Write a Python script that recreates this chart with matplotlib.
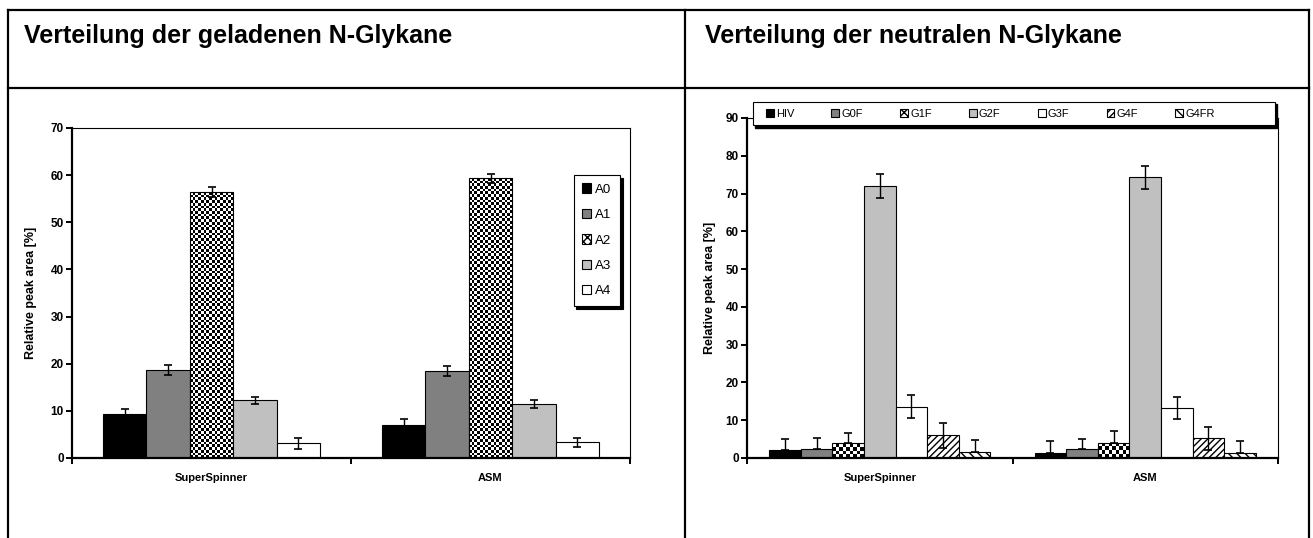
import numpy as np
import matplotlib
matplotlib.use('Agg')
import matplotlib.pyplot as plt
from matplotlib.patches import Patch, Rectangle
from matplotlib.lines import Line2D

plt.rcParams['font.family'] = ['Liberation Sans', 'DejaVu Sans']
plt.rcParams['hatch.linewidth'] = 1.0

W, H = 1313, 538

groups = ['SuperSpinner', 'ASM']

# charged glycans
charged_names = ['A0', 'A1', 'A2', 'A3', 'A4']
charged_ss = [9.3, 18.7, 56.4, 12.2, 3.1]
charged_asm = [7.0, 18.5, 59.3, 11.5, 3.3]
charged_err_ss = [1.2, 1.0, 1.0, 0.8, 1.1]
charged_err_asm = [1.2, 1.1, 1.0, 0.8, 1.0]

# neutral glycans
neutral_names = ['HIV', 'G0F', 'G1F', 'G2F', 'G3F', 'G4F', 'G4FR']
neutral_ss = [2.1, 2.4, 3.9, 72.0, 13.6, 6.0, 1.5]
neutral_asm = [1.2, 2.4, 4.1, 74.3, 13.2, 5.2, 1.2]
neutral_up_ss = [2.9, 2.8, 2.8, 3.1, 3.0, 3.3, 3.2]
neutral_up_asm = [3.2, 2.7, 3.1, 3.1, 3.0, 3.1, 3.2]
neutral_low_ss = [0, 0, 0, 3.1, 3.0, 3.3, 0]
neutral_low_asm = [0, 0, 0, 3.1, 3.0, 3.1, 0]

charged_style = [dict(fc='black'), dict(fc='#808080'), dict(fc='none', checker=2.7),
                 dict(fc='#c0c0c0'), dict(fc='white')]
neutral_style = [dict(fc='black'), dict(fc='#808080'), dict(fc='none', checker=3.5),
                 dict(fc='#c0c0c0'), dict(fc='white'), dict(fc='white', hatch='/////'),
                 dict(fc='white', hatch='\\\\\\\\')]


def px(x, y):
    return x / W, 1 - y / H


def checker(ax, patch, cell):
    x0, y0 = patch.get_x(), patch.get_y()
    x1, y1 = x0 + patch.get_width(), y0 + patch.get_height()
    (a, b), (c, d) = ax.transData.transform([(x0, y0), (x1, y1)])
    nx = max(1, int(round((c - a) / cell)))
    ny = max(1, int(round((d - b) / cell)))
    board = (np.add.outer(np.arange(ny), np.arange(nx)) % 2).astype(float)
    im = ax.imshow(board, cmap='gray', vmin=0, vmax=1, extent=(x0, x1, y0, y1),
                   aspect='auto', interpolation='nearest', origin='lower', zorder=1.9)
    im.set_clip_path(patch)


def draw_chart(ax, names, vals, err_low, err_up, styles, width, ymax):
    ax.set_xlim(-0.5, 1.5)
    ax.set_ylim(0, ymax)
    n = len(names)
    handles = []
    for i in range(n):
        st = dict(styles[i])
        cell = st.pop('checker', None)
        xs = np.arange(2) + (i - (n - 1) / 2) * width
        hv = [vals[0][i], vals[1][i]]
        bars = ax.bar(xs, hv, width, edgecolor='black', linewidth=0.8, zorder=2, **st)
        ax.errorbar(xs, hv, yerr=[[err_low[0][i], err_low[1][i]], [err_up[0][i], err_up[1][i]]],
                    fmt='none', ecolor='black', elinewidth=1.0, capsize=3, capthick=1.2, zorder=3)
        if cell:
            for b in bars:
                checker(ax, b, cell)
            handles.append(Patch(facecolor='white', edgecolor='black', hatch='xxxx', linewidth=0.8))
        else:
            handles.append(Patch(edgecolor='black', linewidth=0.8, **st))
    ax.set_xlim(-0.5, 1.5)
    ax.set_ylim(0, ymax)
    for s in ['left', 'bottom']:
        ax.spines[s].set_linewidth(1.6)
    for s in ['top', 'right']:
        ax.spines[s].set_linewidth(0.8)
    ax.set_yticks(range(0, ymax + 1, 10))
    ax.tick_params(axis='y', direction='out', length=4, width=1.4, labelsize=8.5, pad=2)
    for t in ax.get_yticklabels():
        t.set_fontweight('bold')
    ax.set_xticks([-0.5, 0.5, 1.5])
    ax.set_xticklabels([])
    ax.tick_params(axis='x', which='major', direction='out', length=4, width=1.4)
    ax.set_xticks([0, 1], minor=True)
    ax.set_xticklabels(groups, minor=True)
    ax.tick_params(axis='x', which='minor', length=0, labelsize=8, pad=11)
    for t in ax.get_xticklabels(minor=True):
        t.set_fontweight('bold')
    ax.set_ylabel('Relative peak area [%]', fontsize=9, fontweight='bold')
    return handles


fig = plt.figure(figsize=(W / 100, H / 100), dpi=100)

# left chart
l, b = px(72, 458)
r, t = px(630, 128)
ax1 = fig.add_axes([l, b, r - l, t - b])
h1 = draw_chart(ax1, charged_names, [charged_ss, charged_asm], [charged_err_ss, charged_err_asm],
                [charged_err_ss, charged_err_asm], charged_style, 0.1556, 70)
ax1.yaxis.set_label_coords(-0.062, 0.5)
leg1 = ax1.legend(h1, charged_names, loc='upper left', bbox_to_anchor=(0.887, 0.878),
                  fontsize=9.5, handlelength=0.7, handleheight=0.7, handletextpad=0.3,
                  labelspacing=1.0, borderpad=0.65, fancybox=False, framealpha=1,
                  edgecolor='black', shadow={'color': 'black', 'alpha': 1})
leg1.get_frame().set_linewidth(0.8)

# right chart
l, b = px(747, 458)
r, t = px(1278, 118)
ax2 = fig.add_axes([l, b, r - l, t - b])
h2 = draw_chart(ax2, neutral_names, [neutral_ss, neutral_asm], [neutral_low_ss, neutral_low_asm],
                [neutral_up_ss, neutral_up_asm], neutral_style, 0.119, 90)
ax2.yaxis.set_label_coords(-0.058, 0.5)
ax2.add_patch(Rectangle((0.015, 0.971), 0.983, 0.069, transform=ax2.transAxes, fc='black',
                        ec='black', clip_on=False, zorder=4))
ax2.add_patch(Rectangle((0.011, 0.979), 0.983, 0.069, transform=ax2.transAxes, fc='white',
                        ec='black', lw=0.8, clip_on=False, zorder=5))
leg2 = ax2.legend(h2, neutral_names, loc='center left', bbox_to_anchor=(0.025, 1.013), ncol=7,
                  fontsize=8, handlelength=0.7, handleheight=0.7, handletextpad=0.2,
                  columnspacing=3.35, frameon=False, borderpad=0)
leg2.set_zorder(6)

# table frame
def fline(x0, y0, x1, y1, lw=1.6):
    a, b = px(x0, y0)
    c, d = px(x1, y1)
    fig.add_artist(Line2D([a, c], [b, d], transform=fig.transFigure, color='black', lw=lw))

fline(8, 10, 1309, 10)
fline(8, 88, 1309, 88)
fline(8, 10, 8, 538)
fline(685, 10, 685, 538)
fline(1309, 10, 1309, 538)

fig.text(*px(24, 36), 'Verteilung der geladenen N-Glykane', fontsize=18, fontweight='bold',
         va='center', ha='left')
fig.text(*px(705, 36), 'Verteilung der neutralen N-Glykane', fontsize=18, fontweight='bold',
         va='center', ha='left')

fig.savefig('out.png', dpi=100)
